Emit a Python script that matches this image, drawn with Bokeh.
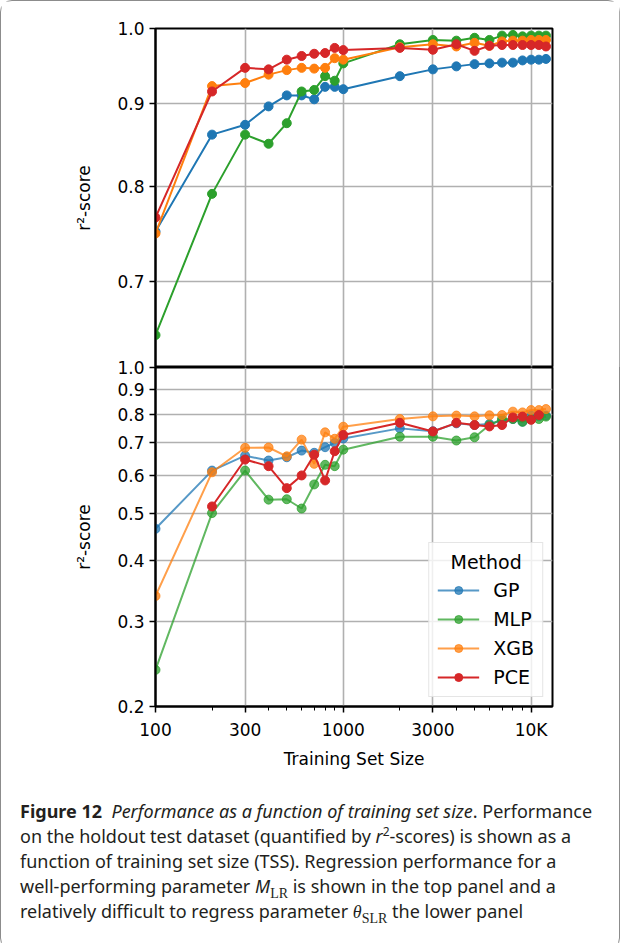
from bokeh.plotting import figure
from bokeh.models import (FixedTicker, CustomJSTickFormatter, PrintfTickFormatter,
                          Grid, Legend, LegendItem, Div, Range1d)
from bokeh.layouts import column
from bokeh.embed import file_html
from bokeh.resources import INLINE

# ---------------- data ----------------
TSS = [100, 200, 300, 400, 500, 600, 700, 800, 900, 1000,
       2000, 3000, 4000, 5000, 6000, 7000, 8000, 9000, 10000, 11000, 12000]

# top panel (M_LR)
GP_top = [0.751, 0.861, 0.873, 0.896, 0.910, 0.910, 0.905, 0.921, 0.921, 0.918,
          0.935, 0.944, 0.948, 0.951, 0.952, 0.953, 0.953, 0.956, 0.957, 0.957, 0.958]
MLP_top = [0.649, 0.792, 0.861, 0.850, 0.875, 0.915, 0.917, 0.935, 0.929, 0.952,
           0.978, 0.984, 0.983, 0.987, 0.984, 0.990, 0.991, 0.989, 0.990, 0.990, 0.990]
XGB_top = [0.749, 0.922, 0.926, 0.937, 0.943, 0.946, 0.945, 0.946, 0.959, 0.957,
           0.974, 0.978, 0.975, 0.980, 0.976, 0.982, 0.983, 0.983, 0.984, 0.984, 0.984]
PCE_top = [0.766, 0.915, 0.946, 0.944, 0.957, 0.962, 0.965, 0.966, 0.973, 0.970,
           0.973, 0.9705, 0.978, 0.969, 0.976, 0.977, 0.977, 0.977, 0.977, 0.977, 0.975]

# bottom panel (theta_SLR)
GP_bot = [0.465, 0.613, 0.658, 0.643, 0.653, 0.674, 0.667, 0.685, 0.699, 0.714,
          0.749, 0.739, 0.767, 0.761, 0.765, 0.777, 0.783, 0.773, 0.796, 0.793, 0.796]
MLP_bot = [0.238, 0.501, 0.613, 0.534, 0.535, 0.512, 0.574, 0.630, 0.626, 0.677,
           0.720, 0.720, 0.707, 0.718, 0.761, 0.783, 0.783, 0.773, 0.783, 0.783, 0.792]
XGB_bot = [0.338, 0.608, 0.683, 0.684, 0.656, 0.710, 0.633, 0.735, 0.713, 0.755,
           0.783, 0.793, 0.796, 0.793, 0.797, 0.798, 0.811, 0.808, 0.817, 0.817, 0.821]
TSS_PCE_bot = [200, 300, 400, 500, 600, 700, 800, 900, 1000,
               2000, 3000, 4000, 5000, 6000, 7000, 8000, 9000, 10000, 11000]
PCE_bot = [0.517, 0.646, 0.626, 0.564, 0.599, 0.661, 0.585, 0.672, 0.726,
           0.769, 0.738, 0.769, 0.761, 0.756, 0.761, 0.789, 0.792, 0.780, 0.798]

methods = ["GP", "MLP", "XGB", "PCE"]
colors = {"GP": "#1f77b4", "MLP": "#2ca02c", "XGB": "#ff7f0e", "PCE": "#d62728"}

x_major = [100, 300, 1000, 3000, 10000]
x_minor = [200, 400, 500, 600, 700, 800, 900, 2000, 4000, 5000, 6000, 7000, 8000, 9000]
y_top_ticks = [0.7, 0.8, 0.9, 1.0]
y_bot_ticks = [0.2, 0.3, 0.4, 0.5, 0.6, 0.7, 0.8, 0.9, 1.0]

FONT = "'DejaVu Sans'"
GRID = "#b0b0b0"


def style_common(p):
    p.outline_line_color = "black"
    p.outline_line_width = 2
    p.background_fill_color = "white"
    for ax in p.yaxis:
        ax.axis_line_width = 2
        ax.major_tick_line_width = 1.5
        ax.major_tick_out = 6
        ax.major_tick_in = 0
        ax.minor_tick_out = 0
        ax.minor_tick_in = 0
        ax.major_label_text_font = FONT
        ax.major_label_text_font_size = "17px"
        ax.major_label_text_color = "black"
        ax.major_label_standoff = 5
        ax.axis_label = "r²-score"
        ax.axis_label_text_font = FONT
        ax.axis_label_text_font_size = "17px"
        ax.axis_label_text_font_style = "normal"
        ax.axis_label_text_color = "black"
        ax.axis_label_standoff = 20
        ax.formatter = PrintfTickFormatter(format="%.1f")
    p.ygrid.grid_line_color = GRID
    p.ygrid.grid_line_width = 1.6


# ---------------- top panel ----------------
p1 = figure(x_axis_type="log", y_axis_type="log",
            x_range=Range1d(100, 13000), y_range=Range1d(0.62, 1.0),
            frame_width=401, frame_height=339,
            min_border_left=154, min_border_right=67,
            min_border_top=27, min_border_bottom=0,
            x_axis_location=None,
            output_backend="svg", toolbar_location=None)
style_common(p1)
p1.border_fill_color = "white"
p1.yaxis.ticker = FixedTicker(ticks=y_top_ticks, minor_ticks=[])
p1.add_layout(Grid(dimension=0, ticker=FixedTicker(ticks=x_major, minor_ticks=[]),
                   grid_line_color=GRID, grid_line_width=1.6))

top_data = {"GP": GP_top, "MLP": MLP_top, "XGB": XGB_top, "PCE": PCE_top}
for m in methods:
    p1.line(TSS, top_data[m], line_color=colors[m], line_width=2)
    p1.scatter(TSS, top_data[m], size=9, fill_color=colors[m], line_color=colors[m])

# ---------------- bottom panel ----------------
p2 = figure(x_axis_type="log", y_axis_type="log",
            x_range=p1.x_range, y_range=Range1d(0.2, 1.0),
            frame_width=401, frame_height=339,
            min_border_left=154, min_border_right=67,
            min_border_top=12, min_border_bottom=72,
            margin=(-12, 0, 0, 0),
            output_backend="svg", toolbar_location=None)
style_common(p2)
p2.border_fill_alpha = 0
p2.yaxis.ticker = FixedTicker(ticks=y_bot_ticks, minor_ticks=[])
xa = p2.xaxis[0]
xa.ticker = FixedTicker(ticks=x_major, minor_ticks=x_minor)
xa.formatter = CustomJSTickFormatter(
    code="return tick >= 10000 ? (tick/1000).toFixed(0) + 'K' : tick.toFixed(0);")
xa.axis_line_width = 2
xa.major_tick_line_width = 1.5
xa.major_tick_out = 6
xa.major_tick_in = 0
xa.minor_tick_line_width = 1
xa.minor_tick_out = 4
xa.minor_tick_in = 0
xa.major_label_text_font = FONT
xa.major_label_text_font_size = "17px"
xa.major_label_text_color = "black"
xa.major_label_standoff = 7
xa.axis_label = "Training Set Size"
xa.axis_label_text_font = FONT
xa.axis_label_text_font_size = "17px"
xa.axis_label_text_font_style = "normal"
xa.axis_label_text_color = "black"
xa.axis_label_standoff = 6
p2.xgrid.grid_line_color = GRID
p2.xgrid.grid_line_width = 1.6

bot_x = {"GP": TSS, "MLP": TSS, "XGB": TSS, "PCE": TSS_PCE_bot}
bot_y = {"GP": GP_bot, "MLP": MLP_bot, "XGB": XGB_bot, "PCE": PCE_bot}
items = []
for m in methods:
    a = 1.0 if m == "PCE" else 0.75
    r1 = p2.line(bot_x[m], bot_y[m], line_color=colors[m], line_width=2, line_alpha=a)
    r2 = p2.scatter(bot_x[m], bot_y[m], size=9, fill_color=colors[m], line_color=colors[m],
                    fill_alpha=a, line_alpha=a)
    items.append(LegendItem(label=m, renderers=[r1, r2]))

legend = Legend(items=items, title="\u2002\u2009Method", location="bottom_right",
                title_text_font=FONT, title_text_font_size="19px",
                title_text_font_style="normal", title_text_color="black",
                title_standoff=6,
                label_text_font=FONT, label_text_font_size="19px",
                label_text_color="black",
                glyph_width=42, glyph_height=20, label_height=20,
                label_standoff=14, spacing=7, padding=8, margin=9,
                border_line_color="#cccccc", border_line_width=1.5,
                background_fill_color="white", background_fill_alpha=0.8)
p2.add_layout(legend)

# ---------------- caption ----------------
SERIF = "font-family:'Liberation Serif', serif;"
caption_html = (
    '<div style="font-family:\'Noto Sans\', sans-serif; font-size:18px; '
    'line-height:25px; color:#231f20; white-space:nowrap; padding-left:19px;">'
    '<b>Figure 12</b>&nbsp;&nbsp;<i>Performance as a function of training set size</i>. Performance<br>'
    'on the holdout test dataset (quantified by <i>r</i>'
    '<sup style="font-size:12px; line-height:0">2</sup>-scores) is shown as a<br>'
    'function of training set size (TSS). Regression performance for a<br>'
    'well-performing parameter <i>M</i><sub style="' + SERIF + ' font-size:14px; line-height:0">LR</sub> '
    'is shown in the top panel and a<br>'
    'relatively difficult to regress parameter <i style="' + SERIF + '">&theta;</i>'
    '<sub style="' + SERIF + ' font-size:14px; line-height:0">SLR</sub> the lower panel'
    '</div>'
)
cap = Div(text=caption_html, width=600, height=150, margin=(21, 0, 0, 0))

layout = column(p1, p2, cap,
                styles={"border": "1px solid #8c8c8c", "border-radius": "12px",
                        "width": "620px", "background": "white"})

open("out.html", "w").write(file_html(layout, INLINE))
